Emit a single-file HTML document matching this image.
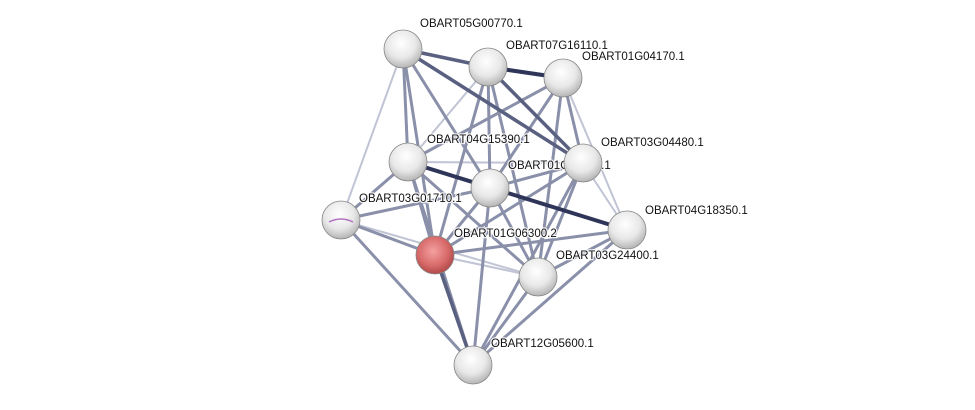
<!DOCTYPE html>
<html><head><meta charset="utf-8"><style>
html,body{margin:0;padding:0;background:#fff;width:975px;height:410px;overflow:hidden}
svg text{font-family:"Liberation Sans",sans-serif;font-size:11.5px;fill:#111;paint-order:stroke;stroke:rgba(255,255,255,0.85);stroke-width:2.5px}
</style></head><body>
<svg width="975" height="410" viewBox="0 0 975 410">
<defs>
<radialGradient id="w" cx="0.45" cy="0.35" r="0.7">
<stop offset="0" stop-color="#ffffff"/><stop offset="0.55" stop-color="#e8e8e8"/><stop offset="1" stop-color="#ababab"/>
</radialGradient>
<radialGradient id="r" cx="0.45" cy="0.4" r="0.7">
<stop offset="0" stop-color="#f4a0a0"/><stop offset="0.55" stop-color="#d86a6a"/><stop offset="1" stop-color="#a03a3a"/>
</radialGradient>
</defs>
<g stroke-linecap="round">
<g stroke="#c0c4d4" stroke-width="2">
<line x1="403" y1="49" x2="341" y2="220"/>
<line x1="563" y1="78" x2="627" y2="230"/>
<line x1="583" y1="163" x2="627" y2="230"/>
<line x1="341" y1="220" x2="538" y2="277"/>
<line x1="435" y1="255" x2="538" y2="277"/>
<line x1="408" y1="162" x2="583" y2="163"/>
<line x1="488" y1="67" x2="408" y2="162"/>
</g>
<g stroke="#8a90aa" stroke-width="3">
<line x1="403" y1="49" x2="408" y2="162"/>
<line x1="403" y1="49" x2="435" y2="255"/>
<line x1="403" y1="49" x2="490" y2="188"/>
<line x1="488" y1="67" x2="490" y2="188"/>
<line x1="488" y1="67" x2="538" y2="277"/>
<line x1="488" y1="67" x2="435" y2="255"/>
<line x1="563" y1="78" x2="408" y2="162"/>
<line x1="563" y1="78" x2="490" y2="188"/>
<line x1="563" y1="78" x2="538" y2="277"/>
<line x1="563" y1="78" x2="583" y2="163"/>
<line x1="408" y1="162" x2="341" y2="220"/>
<line x1="408" y1="162" x2="538" y2="277"/>
<line x1="408" y1="162" x2="435" y2="255"/>
<line x1="490" y1="188" x2="341" y2="220"/>
<line x1="490" y1="188" x2="435" y2="255"/>
<line x1="490" y1="188" x2="538" y2="277"/>
<line x1="490" y1="188" x2="473" y2="365"/>
<line x1="490" y1="188" x2="583" y2="163"/>
<line x1="583" y1="163" x2="435" y2="255"/>
<line x1="583" y1="163" x2="538" y2="277"/>
<line x1="583" y1="163" x2="473" y2="365"/>
<line x1="341" y1="220" x2="473" y2="365"/>
<line x1="341" y1="220" x2="435" y2="255"/>
<line x1="435" y1="255" x2="627" y2="230"/>
<line x1="627" y1="230" x2="538" y2="277"/>
<line x1="627" y1="230" x2="473" y2="365"/>
<line x1="538" y1="277" x2="473" y2="365"/>
<line x1="408" y1="162" x2="473" y2="365"/>
</g>
<g stroke="#5a6080" stroke-width="3.5">
<line x1="403" y1="49" x2="583" y2="163"/>
<line x1="488" y1="67" x2="583" y2="163"/>
<line x1="435" y1="255" x2="473" y2="365"/>
<line x1="403" y1="49" x2="488" y2="67"/>
</g>
<g stroke="#2e3558" stroke-width="4">
<line x1="488" y1="67" x2="563" y2="78"/>
<line x1="408" y1="162" x2="627" y2="230"/>
</g>
</g>
<text x="508" y="169">OBART01G04630.1</text>
<g stroke="#888" stroke-width="0.8">
<circle cx="403" cy="49" r="19" fill="url(#w)"/>
<circle cx="488" cy="67" r="19" fill="url(#w)"/>
<circle cx="563" cy="78" r="19" fill="url(#w)"/>
<circle cx="408" cy="162" r="19" fill="url(#w)"/>
<circle cx="490" cy="188" r="19" fill="url(#w)"/>
<circle cx="583" cy="163" r="19" fill="url(#w)"/>
<circle cx="341" cy="220" r="19" fill="url(#w)"/>
<circle cx="627" cy="230" r="19" fill="url(#w)"/>
<circle cx="435" cy="255" r="19" fill="url(#r)"/>
<circle cx="538" cy="277" r="19" fill="url(#w)"/>
<circle cx="473" cy="365" r="19" fill="url(#w)"/>
</g>
<path d="M329 222 q12 -6 24 0" stroke="#b070c0" stroke-width="1.5" fill="none"/>
<text x="420" y="27">OBART05G00770.1</text>
<text x="506" y="49">OBART07G16110.1</text>
<text x="582" y="60">OBART01G04170.1</text>
<text x="427" y="143">OBART04G15390.1</text>
<text x="601" y="146">OBART03G04480.1</text>
<text x="359" y="202">OBART03G01710.1</text>
<text x="645" y="214">OBART04G18350.1</text>
<text x="454" y="237">OBART01G06300.2</text>
<text x="556" y="259">OBART03G24400.1</text>
<text x="491" y="347">OBART12G05600.1</text>
</svg>
</body></html>
